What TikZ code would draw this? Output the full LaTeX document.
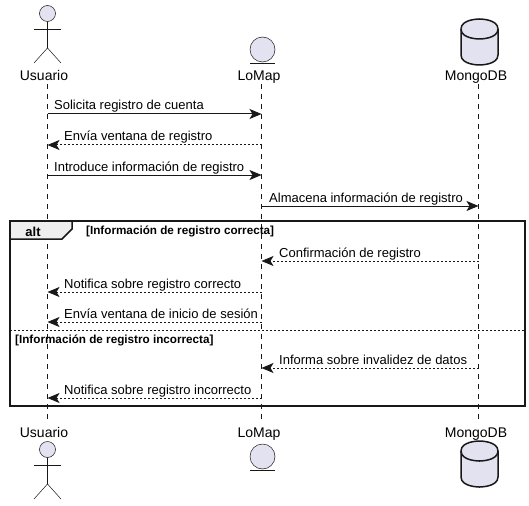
\documentclass[tikz,border=0pt]{standalone}
\usepackage{fontspec}
\setmainfont{Liberation Sans}
\usepackage{tikz}
\usetikzlibrary{arrows.meta,positioning,calc}
\definecolor{umlink}{RGB}{24,24,24}
\definecolor{umlfill}{RGB}{226,226,240}
\definecolor{umltab}{RGB}{238,238,238}
\tikzset{
  lifeline/.style={draw=umlink, line width=0.5pt, dash pattern=on 5pt off 5pt},
  call/.style={draw=umlink, line width=1pt, -{Stealth[length=12pt,width=10pt,inset=3pt]}},
  reply/.style={call, dash pattern=on 2pt off 2pt},
  msglabel/.style={anchor=base west, inner sep=0pt, text=black, font=\fontsize{13}{15}\selectfont},
  partlabel/.style={anchor=base, inner sep=0pt, text=black, font=\fontsize{14}{16}\selectfont},
  guardlabel/.style={anchor=base west, inner sep=0pt, text=black, font=\fontsize{11.7}{13}\selectfont\bfseries},
  actorline/.style={draw=umlink, line width=0.5pt},
  partshape/.style={draw=umlink, fill=umlfill, line width=0.5pt},
  dbshape/.style={draw=umlink, fill=umlfill, line width=1.5pt},
}

\begin{document}
\begin{tikzpicture}[x=1pt,y=-1pt]
  \useasboundingbox (0,0) rectangle (529,505);
  % Points on the lifelines
  \foreach \n/\y in {top/84,a/114,b/145,c/175,d/206,e/261,f/292,g/322,h/368,i/398,bot/423} {
    \coordinate (user\n) at (47.5,\y);
    \coordinate (map\n) at (261.5,\y);
    \coordinate (db\n) at (478.5,\y);
  }
  % Lifelines
  \draw[lifeline] (usertop) -- (userbot);
  \draw[lifeline] (maptop) -- (mapbot);
  \draw[lifeline] (dbtop) -- (dbbot);
  % Participants, top and bottom row
  \foreach \r/\base/\dya/\dye/\dyd in {upper/81/0/0/0,lower/437/436/407/422} {
    \node[partlabel] (userlabel\r) at (44,\base) {Usuario};
    \node[partlabel] (maplabel\r) at (259,\base) {LoMap};
    \node[partlabel] (dblabel\r) at (476,\base) {MongoDB};
    % Actor
    \node[circle, partshape, minimum size=16pt, inner sep=0pt] (head\r) at (47.5,13.5+\dya) {};
    \coordinate (hip\r) at (47.5,48+\dya);
    \draw[actorline] (head\r.south) -- (hip\r);
    \draw[actorline] (34,29+\dya) -- (61,29+\dya);
    \draw[actorline] (34,63+\dya) -- (hip\r) -- (61,63+\dya);
    % Entity
    \node[circle, partshape, minimum size=25pt, inner sep=0pt] (ent\r) at (262.5,49.5+\dye) {};
    \draw[actorline] (250,63+\dye) -- (275,63+\dye);
    % Database
    \draw[dbshape] (461,29+\dyd) .. controls (461,19+\dyd) and (479.5,19+\dyd) .. (479.5,19+\dyd)
      .. controls (479.5,19+\dyd) and (498,19+\dyd) .. (498,29+\dyd) -- (498,55+\dyd)
      .. controls (498,65+\dyd) and (479.5,65+\dyd) .. (479.5,65+\dyd)
      .. controls (479.5,65+\dyd) and (461,65+\dyd) .. (461,55+\dyd) -- cycle;
    \draw[dbshape] (461,29+\dyd) .. controls (461,39+\dyd) and (479.5,39+\dyd) .. (479.5,39+\dyd)
      .. controls (479.5,39+\dyd) and (498,39+\dyd) .. (498,29+\dyd);
  }
  % Frame of the alternatives
  \draw[draw=umlink, line width=1.5pt] (10,221) rectangle (525,406);
  \draw[draw=umlink, line width=1.5pt, fill=umltab] (10,221) -- (72,221) -- (72,229) -- (62,239) -- (10,239) -- cycle;
  \node[anchor=base, inner sep=0pt, font=\fontsize{13}{15}\selectfont\bfseries] (alttab) at (33,236) {alt};
  \node[guardlabel] (guardok) at (86,234) {[Información de registro correcta]};
  \draw[draw=umlink, line width=1pt, dash pattern=on 2pt off 2pt] (10,330.5) -- (525,330.5);
  \node[guardlabel] (guardbad) at (15,343) {[Información de registro incorrecta]};
  % Messages
  \draw[call] (usera) -- (mapa);
  \node[msglabel] (msga) at (54,110) {Solicita registro de cuenta};
  \draw[reply] (mapb) -- (userb);
  \node[msglabel] (msgb) at (64,140) {Envía ventana de registro};
  \draw[call] (userc) -- (mapc);
  \node[msglabel] (msgc) at (54,171) {Introduce información de registro};
  \draw[call] (mapd) -- (dbd);
  \node[msglabel] (msgd) at (269,202) {Almacena información de registro};
  \draw[reply] (dbe) -- (mape);
  \node[msglabel] (msge) at (279,257) {Confirmación de registro};
  \draw[reply] (mapf) -- (userf);
  \node[msglabel] (msgf) at (64,288) {Notifica sobre registro correcto};
  \draw[reply] (mapg) -- (userg);
  \node[msglabel] (msgg) at (64,318) {Envía ventana de inicio de sesión};
  \draw[reply] (dbh) -- (maph);
  \node[msglabel] (msgh) at (279,364) {Informa sobre invalidez de datos};
  \draw[reply] (mapi) -- (useri);
  \node[msglabel] (msgi) at (64,394) {Notifica sobre registro incorrecto};
\end{tikzpicture}
\end{document}
